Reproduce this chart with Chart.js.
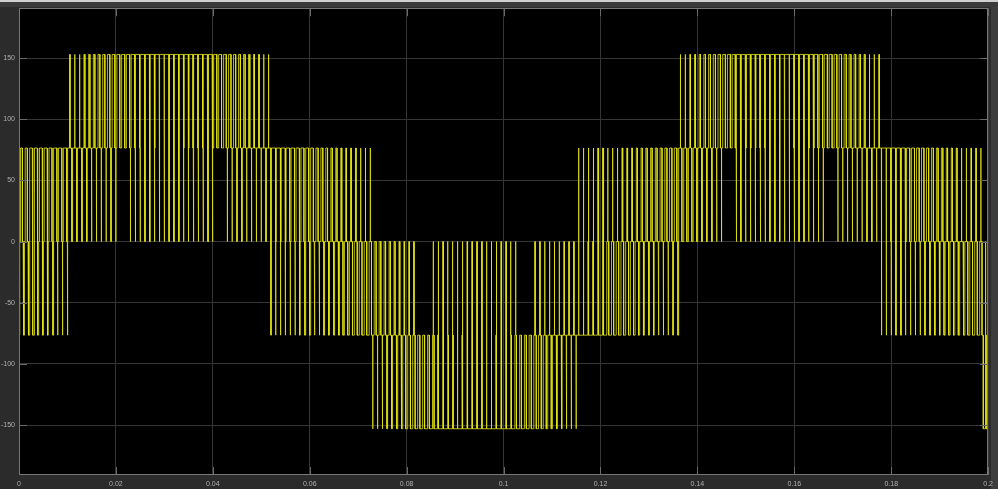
<!DOCTYPE html>
<html>
<head>
<meta charset="utf-8">
<script src="https://cdn.jsdelivr.net/npm/chart.js@4.4.0/dist/chart.umd.min.js"></script>
<style>
html,body{margin:0;padding:0;background:#2b2b2b;overflow:hidden}
#wrap{width:998px;height:489px;position:relative}
</style>
</head>
<body>
<div id="wrap"><canvas id="c" width="998" height="489"></canvas></div>
<script>
// ---- axis ranges and ticks ----
const xMin = 0, xMax = 0.2;
const yMin = -190.8, yMax = 190.8;
const xTicks = [0, 0.02, 0.04, 0.06, 0.08, 0.1, 0.12, 0.14, 0.16, 0.18, 0.2];
const yTicks = [-150, -100, -50, 0, 50, 100, 150];

// ---- PWM carrier period (s), read from pulse spacing ----
const carrierPeriod = 0.001;

// ---- voltage bands (levels) ----
// each band segment: time of first pulse centre, low level, high level
const segFirstCenter = [0.0005, 0.0005, 0.0105, 0.0235, 0.0435, 0.0525, 0.0735, 0.0855, 0.1065, 0.1155, 0.1365, 0.1485, 0.1695, 0.1785, 0.1995];
const segLow         = [-76.5,   0,      76.5,   0,      0,      -76.5,  -153,   -76.5,  -76.5,  0,      76.5,   0,      0,      -76.5,  -153];
const segHigh        = [0,       76.5,   153,    76.5,   76.5,   0,      -76.5,  0,      0,      76.5,   153,    76.5,   76.5,   0,      -76.5];

// ---- duty of each pulse (fraction of the period at the band's high level) ----
const dutyS1  = [0.7,0.74,0.77,0.8,0.83,0.86,0.88,0.9,0.93,0.95];
const dutyS2  = [0.4,0.44,0.48,0.52,0.55,0.58,0.61,0.64,0.67,0.7,0.8,0.83,0.86,0.88,0.9,0.92,0.94,0.95,0.97,0.98];
const dutyS3  = [0.05,0.1,0.15,0.2,0.26,0.32,0.38,0.44,0.5,0.55,0.6,0.64,0.68,0.72,0.75,0.78,0.8,0.82,0.84,0.85,0.86,0.86,0.85,0.84,0.82,0.8,0.78,0.75,0.72,0.68,0.64,0.6,0.55,0.5,0.44,0.38,0.32,0.26,0.2,0.15,0.1,0.05];
const dutyS4  = [0.97,0.96,0.95,0.94,0.93,0.92,0.91,0.9,0.9,0.9,0.91,0.92,0.93,0.94,0.95,0.96,0.97];
const dutyS5  = [0.97,0.96,0.96,0.95,0.95,0.94,0.94,0.93,0.92,0.88,0.84,0.8,0.75,0.7,0.65,0.6,0.55,0.5,0.45,0.4,0.35,0.3,0.26,0.22,0.18,0.15,0.12,0.09,0.07,0.05];
const dutyS6  = [0.97,0.96,0.95,0.94,0.93,0.92,0.9,0.88,0.86,0.84,0.82,0.8,0.77,0.74,0.71,0.68,0.64,0.6,0.56,0.52,0.48,0.4,0.35,0.3,0.26,0.22,0.18,0.14,0.1,0.06];
const dutyS7  = [0.95,0.9,0.85,0.8,0.74,0.68,0.62,0.56,0.5,0.45,0.4,0.36,0.32,0.28,0.25,0.22,0.2,0.18,0.16,0.15,0.14,0.14,0.15,0.16,0.18,0.2,0.22,0.25,0.28,0.32,0.36,0.4,0.45,0.5,0.56,0.62,0.68,0.74,0.8,0.85,0.9,0.95];
const dutyS8  = [0.03,0.04,0.05,0.06,0.07,0.08,0.09,0.1,0.1,0.1,0.1,0.09,0.08,0.07,0.06,0.05,0.04,0.03];
const dutyS9  = [0.03,0.04,0.04,0.05,0.05,0.06,0.06,0.07,0.08,0.12,0.16,0.2,0.25,0.3,0.35,0.4,0.45,0.5,0.55,0.6,0.65,0.7,0.74,0.78,0.82,0.85,0.88,0.91,0.93,0.95];
const dutyS10 = [0.03,0.04,0.05,0.06,0.07,0.08,0.1,0.12,0.14,0.16,0.18,0.2,0.23,0.26,0.29,0.32,0.36,0.4,0.44,0.48,0.52,0.6,0.65,0.7,0.74,0.78,0.82,0.86,0.9,0.94];
const dutyS11 = [0.05,0.1,0.15,0.2,0.26,0.32,0.38,0.44,0.5,0.55,0.6,0.64,0.68,0.72,0.75,0.78,0.8,0.82,0.84,0.85,0.86,0.86,0.85,0.84,0.82,0.8,0.78,0.75,0.72,0.68,0.64,0.6,0.55,0.5,0.44,0.38,0.32,0.26,0.2,0.15,0.1,0.05];
const dutyS12 = [0.97,0.96,0.95,0.94,0.93,0.92,0.91,0.9,0.9,0.9,0.9,0.91,0.92,0.93,0.94,0.95,0.96,0.97];
const dutyS13 = [0.97,0.96,0.96,0.95,0.95,0.94,0.94,0.93,0.92,0.88,0.84,0.8,0.75,0.7,0.65,0.6,0.55,0.5,0.45,0.4,0.35,0.3,0.26,0.22,0.18,0.15,0.12,0.09,0.07,0.05];
const dutyS14 = [0.97,0.96,0.95,0.94,0.93,0.92,0.9,0.88,0.86,0.84,0.82,0.8,0.77,0.74,0.71,0.68,0.64,0.6,0.56,0.52,0.48,0.08];
const dutyS15 = [0.2];
const segDuty = [dutyS1,dutyS2,dutyS3,dutyS4,dutyS5,dutyS6,dutyS7,dutyS8,dutyS9,dutyS10,dutyS11,dutyS12,dutyS13,dutyS14,dutyS15];

// ---- turn the pulse table into step points (rendering only) ----
function buildWave(){
  const T = carrierPeriod;
  const segs = segFirstCenter.map((s,i)=>({s:s, lo:segLow[i], hi:segHigh[i], duty:segDuty[i]}));
  const n = Math.round((xMax - xMin)/T);
  const pts = [];
  for (let k=0;k<n;k++){
    const c = xMin + (k+0.5)*T;
    const act = [];
    for (const g of segs){
      const i = Math.round((c - g.s)/T);
      if (i>=0 && i<g.duty.length) act.push({lo:g.lo, hi:g.hi, d:g.duty[i]});
    }
    act.sort((a,b)=>a.lo-b.lo);
    const a = c - T/2, b = c + T/2;
    if (act.length===1){
      const g = act[0], h = g.d*T/2;
      pts.push({x:a,y:g.lo},{x:c-h,y:g.lo},{x:c-h,y:g.hi},{x:c+h,y:g.hi},{x:c+h,y:g.lo},{x:b,y:g.lo});
    } else if (act.length>=2){
      const L = act[0], U = act[1];
      const dL = L.d, dU = Math.max(0.01, Math.min(U.d, dL-0.04));
      const hL = dL*T/2, hU = dU*T/2;
      pts.push({x:a,y:L.lo},{x:c-hL,y:L.lo},{x:c-hL,y:L.hi},{x:c-hU,y:L.hi},{x:c-hU,y:U.hi},
               {x:c+hU,y:U.hi},{x:c+hU,y:L.hi},{x:c+hL,y:L.hi},{x:c+hL,y:L.lo},{x:b,y:L.lo});
    }
  }
  return pts;
}

const frame = {
  id:'frame',
  beforeDraw(chart){
    const ctx = chart.ctx, ca = chart.chartArea;
    ctx.save();
    ctx.fillStyle = '#2b2b2b';
    ctx.fillRect(0,0,chart.width,chart.height);
    ctx.fillStyle = '#cfcfcf';
    ctx.fillRect(0,0,chart.width,2);
    ctx.fillStyle = '#3a3a3a';
    ctx.fillRect(0,2,chart.width,5);
    ctx.fillStyle = '#3d3d3d';
    ctx.fillRect(991,7,7,chart.height-7);
    ctx.fillStyle = '#000';
    ctx.fillRect(ca.left,ca.top,ca.right-ca.left,ca.bottom-ca.top);
    ctx.restore();
  },
  afterDatasetsDraw(chart){
    const ctx = chart.ctx, ca = chart.chartArea;
    const xs = chart.scales.x, ys = chart.scales.y;
    ctx.save();
    ctx.strokeStyle = '#6a6a6a';
    ctx.lineWidth = 1;
    const L = 8;
    ctx.beginPath();
    xTicks.forEach(v=>{
      const px = Math.round(xs.getPixelForValue(v))+0.5;
      ctx.moveTo(px, ca.bottom); ctx.lineTo(px, ca.bottom-L);
      ctx.moveTo(px, ca.top); ctx.lineTo(px, ca.top+L);
    });
    yTicks.forEach(v=>{
      const py = Math.round(ys.getPixelForValue(v))+0.5;
      ctx.moveTo(ca.left, py); ctx.lineTo(ca.left+L, py);
      ctx.moveTo(ca.right, py); ctx.lineTo(ca.right-L, py);
    });
    ctx.stroke();
    ctx.strokeStyle = '#777777';
    ctx.strokeRect(Math.round(ca.left)+0.5, Math.round(ca.top)+0.5, Math.round(ca.right-ca.left)-1, Math.round(ca.bottom-ca.top)-1);
    ctx.restore();
  }
};

new Chart(document.getElementById('c'), {
  type:'line',
  data:{ datasets:[{
    data: buildWave(),
    borderColor:'rgba(232,232,16,0.8)',
    borderWidth:1,
    pointRadius:0,
    tension:0,
    fill:false
  }]},
  options:{
    responsive:false,
    animation:false,
    events:[],
    parsing:false,
    layout:{padding:{top:8,right:8.4,left:0,bottom:0}},
    plugins:{legend:{display:false},tooltip:{enabled:false}},
    scales:{
      x:{
        type:'linear', min:xMin, max:xMax,
        afterBuildTicks:s=>{s.ticks = xTicks.map(v=>({value:v}));},
        afterFit:s=>{s.height = 14;},
        grid:{color:'#363636', drawTicks:false},
        border:{display:false},
        ticks:{color:'#b0b0b0', font:{size:7, family:'Liberation Sans, Arial, sans-serif'}, padding:5, maxRotation:0, autoSkip:false,
          callback:v=>String(+v.toFixed(2))}
      },
      y:{
        type:'linear', min:yMin, max:yMax,
        afterBuildTicks:s=>{s.ticks = yTicks.map(v=>({value:v}));},
        afterFit:s=>{s.width = 19;},
        grid:{color:'#363636', drawTicks:false},
        border:{display:false},
        ticks:{color:'#b0b0b0', font:{size:7, family:'Liberation Sans, Arial, sans-serif'}, padding:4,
          callback:v=>String(v)}
      }
    }
  },
  plugins:[frame]
});
</script>
</body>
</html>
